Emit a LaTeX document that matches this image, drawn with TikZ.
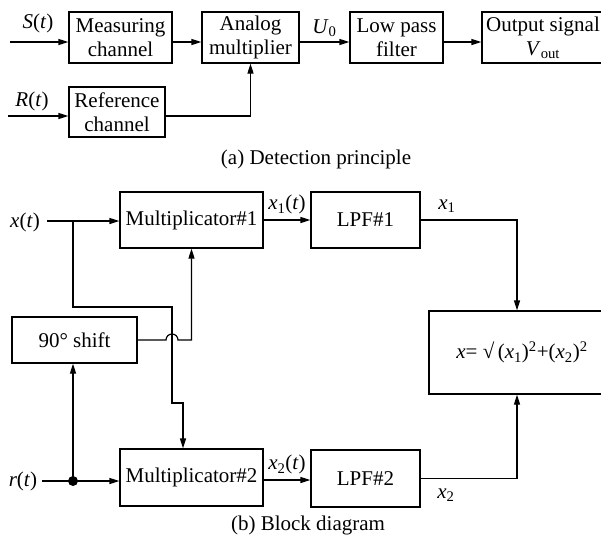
\documentclass[tikz,border=0pt]{standalone}
\usepackage{fontspec}
\setmainfont{Liberation Serif}
\usetikzlibrary{arrows.meta,calc}
\begin{document}
\begin{tikzpicture}[x=1pt,y=-1pt,
  every node/.style={font=\fontsize{21}{24}\selectfont},
  blk/.style={draw,line width=1.2pt,inner sep=0pt,align=center},
  lbl/.style={inner sep=0pt},
  arr/.style={line width=1.2pt,-{Triangle[length=10pt,width=6pt]}},
  wire/.style={line width=1.2pt}]
\useasboundingbox (0,0) rectangle (601,539);
% ---------- (a) ----------
\node[blk,minimum width=103pt,minimum height=51pt] (meas) at (120.5,37.5) {Measuring\\channel};
\node[blk,minimum width=97pt,minimum height=51pt] (amul) at (250.5,37.5) {Analog\\multiplier};
\node[blk,minimum width=93pt,minimum height=51pt] (lpf) at (396.5,37.5) {Low pass\\filter};
\node[blk,minimum width=122pt,minimum height=51pt] (outp) at (543,37.5) {Output signal\\\textit{V}\textsubscript{out}};
\node[blk,minimum width=96pt,minimum height=50pt] (ref) at (117,112) {Reference\\channel};
\coordinate (sin) at (10,42);
\coordinate (rin) at (8,116);
\node[lbl] (slab) at (38,23) {\textit{S}(\textit{t})};
\node[lbl] (rlab) at (32,101) {\textit{R}(\textit{t})};
\draw[arr] (sin) -- (meas.west |- sin);
\draw[arr] (meas.east |- sin) -- (amul.west |- sin);
\draw[arr] (amul.east |- sin) -- node[lbl,above=5pt] (ulab) {\textit{U}\textsubscript{0}} (lpf.west |- sin);
\draw[arr] (lpf.east |- sin) -- (outp.west |- sin);
\draw[arr] (rin) -- (ref.west |- rin);
\draw[arr] (ref.east |- rin) -| (amul.south);
\node[lbl] (capa) at (316,159) {(a) Detection principle};
% ---------- (b) ----------
\node[blk,minimum width=143pt,minimum height=56pt] (m1) at (191.5,220) {Multiplicator\#1};
\node[blk,minimum width=109pt,minimum height=56pt] (lpf1) at (365.5,220) {LPF\#1};
\node[blk,minimum width=125pt,minimum height=46pt] (shift) at (74.5,340) {90° shift};
\node[blk,minimum width=143pt,minimum height=57pt] (m2) at (191.5,477.5) {Multiplicator\#2};
\node[blk,minimum width=109pt,minimum height=57pt] (lpf2) at (365.5,478.5) {LPF\#2};
\node[blk,minimum width=186pt,minimum height=83pt] (res) at (522,352.5)
  {\textit{x}= √\,(\textit{x}\textsubscript{1})\textsuperscript{2}+(\textit{x}\textsubscript{2})\textsuperscript{2}};
\node[lbl] (xlab) at (25,222) {\textit{x}(\textit{t})};
\node[lbl] (rtlab) at (23,481) {\textit{r}(\textit{t})};
\coordinate (xin) at (47,221);
\coordinate (bx) at (73,221);
\coordinate (b1) at (73,307);
\coordinate (b2) at (172,307);
\coordinate (b3) at (172,403);
\coordinate (b4) at (183,403);
\coordinate (rin2) at (42,481);
\coordinate (dot) at (73,481);
\coordinate (jl) at (166,340);
\coordinate (c1) at (517,0);
\draw[arr] (xin) -- (m1.west |- xin);
\draw[arr] (bx) -- (b1) -- (b2) -- (b3) -- (b4) -- (m2.north -| b4);
\draw[arr] (shift.east) -- (jl) arc[start angle=180,end angle=0,radius=6pt] -- (m1.south |- shift.east) -- (m1.south);
\draw[arr] (rin2) -- (m2.west |- rin2);
\fill (dot) circle (5pt);
\draw[arr] (dot) -- (shift.south -| dot);
\draw[arr] (m1.east) -- node[lbl,above=5pt] (x1t) {\textit{x}\textsubscript{1}(\textit{t})} (lpf1.west |- m1.east);
\draw[arr] (m2.east |- 0,480) -- node[lbl,above=5pt] (x2t) {\textit{x}\textsubscript{2}(\textit{t})} (lpf2.west |- 0,480);
\draw[arr] (lpf1.east) -| (res.north -| c1);
\draw[arr] (lpf2.east) -| (res.south -| c1);
\node[lbl] (x1l) at (447,206) {\textit{x}\textsubscript{1}};
\node[lbl] (x2l) at (446,495) {\textit{x}\textsubscript{2}};
\node[lbl] (capb) at (308,525) {(b) Block diagram};
\end{tikzpicture}
\end{document}
